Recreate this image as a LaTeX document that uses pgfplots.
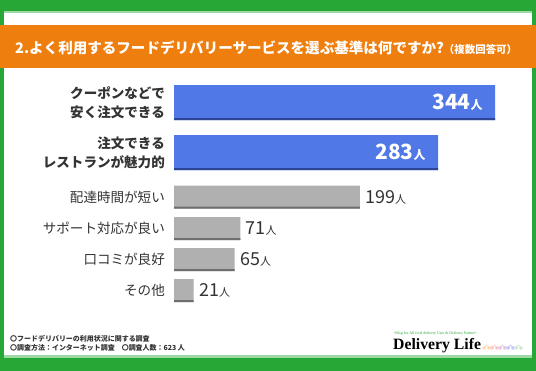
\documentclass[border=0pt]{standalone}
\usepackage{pgfplots}
\pgfplotsset{compat=1.18}
\usepackage{fontspec}
\setmainfont{Noto Sans CJK JP}
\newfontfamily\serif{Liberation Serif}
\definecolor{bordergreen}{HTML}{27A836}
\definecolor{lightgreen}{HTML}{9ED8A2}
\definecolor{bannerorange}{HTML}{EE7F0E}
\definecolor{barblue}{HTML}{5078E6}
\definecolor{barblueedge}{HTML}{2E4595}
\definecolor{bargray}{HTML}{B0B0B0}
\definecolor{bargrayedge}{HTML}{6E6E6E}
\definecolor{txt}{HTML}{333333}
\begin{document}
\begin{tikzpicture}
\useasboundingbox (0,0) rectangle (536bp,371bp);
\begin{scope}[x=1bp,y=-1bp,shift={(0,371bp)}]
\fill[bordergreen] (0,0) rectangle (536,371);
\fill[white] (4,11) rectangle (532,358);
\fill[lightgreen] (4,11) rectangle (532,13.5);
\fill[lightgreen] (4,355) rectangle (532,358);
\fill[bannerorange] (0,25) rectangle (536,68);
\node[anchor=west, text=white, inner sep=0pt, font=\bfseries\fontsize{14.6}{15}\selectfont] at (15,47.5)
  {2.よく利用するフードデリバリーサービスを選ぶ基準は何ですか?{\fontsize{10.5}{11}\selectfont（複数回答可）}};
\node[anchor=west, text=txt, inner sep=0pt, font=\bfseries\fontsize{7}{7}\selectfont] at (10,338.5)
  {〇フードデリバリーの利用状況に関する調査};
\node[anchor=west, text=txt, inner sep=0pt, font=\bfseries\fontsize{7}{7}\selectfont] at (10,347.5)
  {〇調査方法：インターネット調査　〇調査人数：623 人};
\node[anchor=west, text=bordergreen, inner sep=0pt, font=\serif\fontsize{3.9}{4}\selectfont] at (393,334)
  {\textasciitilde Blog for All food delivery User \& Delivery Partner\textasciitilde};
\node[anchor=west, text=black, inner sep=0pt, font=\serif\bfseries\fontsize{15.8}{16}\selectfont] at (393,345.5)
  {Delivery Life};
\foreach \c [count=\i] in {orange!40, red!30, violet!30, blue!30, green!50!black!25}{
  \draw[\c, line width=0.4pt] ({476+\i*8},348) circle (1.5) ({481+\i*8},348) circle (1.5)
     ({476+\i*8},348) -- ({478.5+\i*8},345) -- ({481+\i*8},348);
}
\end{scope}
\begin{axis}[
  at={(174bp,56bp)}, anchor=south west,
  scale only axis, width=358bp, height=240bp,
  xmin=0, xmax=383.5, ymin=75, ymax=315, y dir=reverse,
  clip=false, xbar,
  /pgf/number format/assume math mode=true,
  axis line style={draw=none},
  major tick length=0pt,
  xtick=\empty,
  ytick={102.5,152.5,197,228.5,259.5,290.5},
  yticklabels={
    {\textbf{クーポンなどで}\\\textbf{安く注文できる}},
    {\textbf{注文できる}\\\textbf{レストランが魅力的}},
    配達時間が短い, サポート対応が良い, 口コミが良好, その他},
  yticklabel style={align=right, text=txt, inner sep=0pt, xshift=-9bp,
    font=\fontsize{13.6}{19}\selectfont},
]
\addplot[fill=barblue, draw=none, bar width=35, bar shift=0pt,
  nodes near coords={\bfseries\fontsize{21}{21}\selectfont\pgfmathprintnumber{\pgfplotspointmeta}\fontsize{12}{12}\selectfont 人},
  nodes near coords style={anchor=east, text=white, xshift=-9bp}]
  coordinates {(344,102.5) (283,152.5)};
\addplot[fill=barblueedge, draw=none, bar width=2, bar shift=0pt]
  coordinates {(344,119) (283,169)};
\addplot[fill=bargray, draw=none, bar width=23, bar shift=0pt,
  nodes near coords={\fontsize{18}{18}\selectfont\pgfmathprintnumber{\pgfplotspointmeta}\fontsize{11}{11}\selectfont 人},
  nodes near coords style={anchor=west, text=txt, xshift=2bp}]
  coordinates {(199,197) (71,228.5) (65,259.5) (21,290.5)};
\addplot[fill=bargrayedge, draw=none, bar width=2, bar shift=0pt]
  coordinates {(199,207.5) (71,239) (65,270) (21,301)};
\end{axis}
\end{tikzpicture}
\end{document}
